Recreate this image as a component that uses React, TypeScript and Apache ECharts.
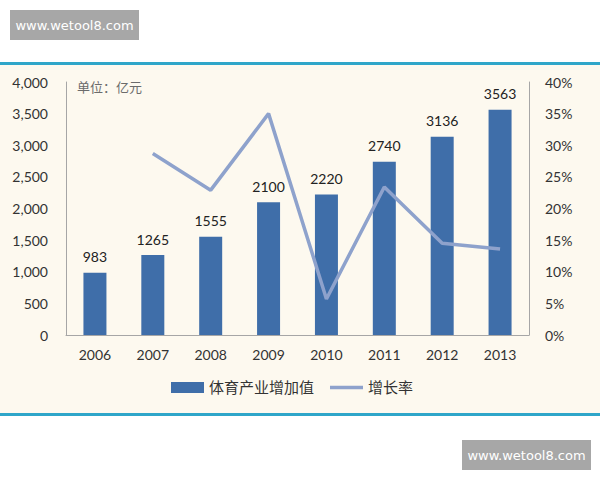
import { useEffect, useRef } from "react";
import * as echarts from "echarts";

const years = ["2006", "2007", "2008", "2009", "2010", "2011", "2012", "2013"];
const addedValue = [983, 1265, 1555, 2100, 2220, 2740, 3136, 3563];
const growthRate = [null, 0.287, 0.229, 0.35, 0.057, 0.234, 0.145, 0.136];

const BAR_COLOR = "#3f6ea9";
const LINE_COLOR = "#8ea2cc";
const PANEL_BG = "#fdf9ef";
const RULE_COLOR = "#2fa6c9";
const FONT = "Lato, 'Noto Sans CJK SC', sans-serif";

export default function App() {
  const ref = useRef<HTMLDivElement | null>(null);

  useEffect(() => {
    if (!ref.current) return;
    const chart = echarts.init(ref.current, undefined, { renderer: "svg" });

    const watermark = (x: number, y: number) => ({
      type: "group",
      left: x,
      top: y,
      children: [
        { type: "rect", shape: { x: 0, y: 0, width: 129, height: 30 }, style: { fill: "#a7a7a7" } },
        {
          type: "text",
          x: 64.5,
          y: 15,
          style: {
            text: "www.wetool8.com",
            fill: "#ffffff",
            font: "13px 'DejaVu Sans', sans-serif",
            align: "center",
            verticalAlign: "middle",
          },
        },
      ],
    });

    chart.setOption({
      animation: false,
      backgroundColor: "#ffffff",
      textStyle: { fontFamily: FONT },
      graphic: [
        { type: "rect", z: -10, shape: { x: 0, y: 65, width: 600, height: 348 }, style: { fill: PANEL_BG } },
        { type: "rect", z: -5, shape: { x: 0, y: 62, width: 600, height: 3 }, style: { fill: RULE_COLOR } },
        { type: "rect", z: -5, shape: { x: 0, y: 413, width: 600, height: 3 }, style: { fill: RULE_COLOR } },
        watermark(10, 10),
        watermark(462, 440),
        {
          type: "text",
          left: 77,
          top: 80,
          style: { text: "单位：亿元", fill: "#6b6b6b", font: `13px ${FONT}` },
        },
      ],
      grid: { left: 66, right: 71, top: 82, bottom: 145 },
      legend: {
        bottom: 80,
        left: 166,
        itemGap: 16,
        itemWidth: 33,
        itemHeight: 11,
        textStyle: { fontSize: 15, color: "#333", fontFamily: FONT },
        data: [
          { name: "体育产业增加值", icon: "rect" },
          { name: "增长率", icon: "path://M0,0h33v3.5H0z" },
        ],
      },
      xAxis: {
        type: "category",
        data: years,
        axisLine: { lineStyle: { color: "#a6a6a6", width: 1 } },
        axisTick: { show: false },
        axisLabel: { color: "#333", fontSize: 14, margin: 12 },
      },
      yAxis: [
        {
          type: "value",
          min: 0,
          max: 4000,
          interval: 500,
          axisLine: { show: true, lineStyle: { color: "#a6a6a6" } },
          axisTick: { show: false },
          splitLine: { show: false },
          axisLabel: {
            color: "#333",
            fontSize: 14,
            margin: 18,
            formatter: (v: number) => v.toLocaleString("en-US"),
          },
        },
        {
          type: "value",
          min: 0,
          max: 0.4,
          interval: 0.05,
          axisLine: { show: true, lineStyle: { color: "#a6a6a6" } },
          axisTick: { show: false },
          splitLine: { show: false },
          axisLabel: {
            color: "#333",
            fontSize: 14,
            margin: 16,
            formatter: (v: number) => `${Math.round(v * 100)}%`,
          },
        },
      ],
      series: [
        {
          name: "体育产业增加值",
          type: "bar",
          data: addedValue,
          barWidth: 23,
          itemStyle: { color: BAR_COLOR },
          label: {
            show: true,
            position: "top",
            distance: 9,
            color: "#222",
            fontSize: 14,
          },
        },
        {
          name: "增长率",
          type: "line",
          yAxisIndex: 1,
          data: growthRate,
          symbol: "none",
          showSymbol: false,
          lineStyle: { color: LINE_COLOR, width: 3.5 },
          itemStyle: { color: LINE_COLOR },
        },
      ],
    });

    return () => chart.dispose();
  }, []);

  return (
    <div
      ref={ref}
      style={{ position: "fixed", left: 0, top: 0, width: 600, height: 480 }}
    />
  );
}
